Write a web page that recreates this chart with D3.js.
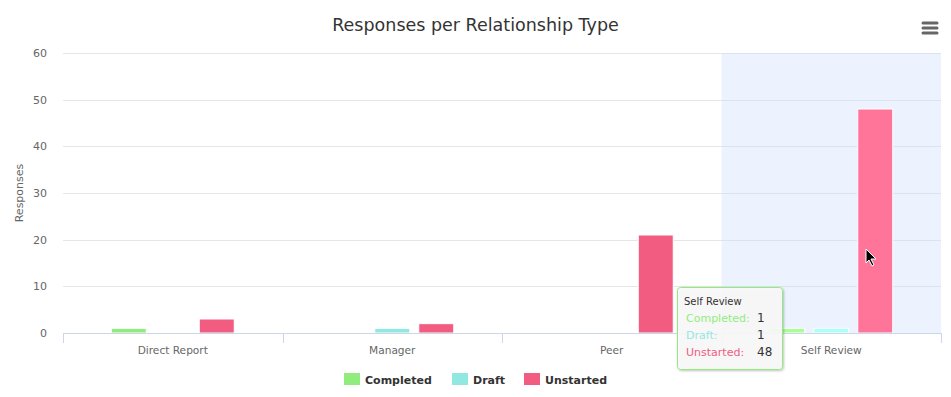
<!DOCTYPE html>
<html>
<head>
<meta charset="utf-8">
<script src="https://cdn.jsdelivr.net/npm/d3@7"></script>
<style>
  body { margin: 0; background: #fff; }
  svg { font-family: "Lucida Grande", "Lucida Sans Unicode", "DejaVu Sans", Arial, sans-serif; }
</style>
</head>
<body>
<div id="chart_area"></div>
<script>
var categories = ["Direct Report", "Manager", "Peer", "Self Review"];
var seriesNames = ["Completed", "Draft", "Unstarted"];
var completed = [1, 0, 0, 1];
var draft = [0, 1, 0, 1];
var unstarted = [3, 2, 21, 48];
var yTicks = [0, 10, 20, 30, 40, 50, 60];
var hovered = "Self Review";

var colors = ["#90ed7d", "#91e8e1", "#f15c80"];
var hoverColors = ["#a9ff96", "#aafffa", "#ff7599"];

var width = 951, height = 397;
var margin = { top: 53, right: 10, bottom: 64, left: 63 };
var plotW = width - margin.left - margin.right,
    plotH = height - margin.top - margin.bottom;

var rows = categories.map(function (c, i) {
    return { cat: c, values: [completed[i], draft[i], unstarted[i]] };
});

var svg = d3.select("#chart_area")
    .append("svg")
    .attr("width", width)
    .attr("height", height);

var x = d3.scaleBand().domain(categories).range([0, plotW]);
var xInner = d3.scaleBand().domain(seriesNames).range([0, x.bandwidth()])
    .paddingInner(0.205).paddingOuter(1.097);
var y = d3.scaleLinear().domain([0, 60]).range([plotH, 0]);

// title
svg.append("text")
    .attr("x", width / 2)
    .attr("y", 31)
    .attr("text-anchor", "middle")
    .style("font-size", "17.5px")
    .style("fill", "#333333")
    .text("Responses per Relationship Type");

// menu icon
[23, 28, 33].forEach(function (yy) {
    svg.append("line")
        .attr("x1", 923).attr("x2", 937)
        .attr("y1", yy).attr("y2", yy)
        .style("stroke", "#666666")
        .style("stroke-width", 3)
        .style("stroke-linecap", "round");
});

var g = svg.append("g").attr("transform", "translate(" + margin.left + "," + margin.top + ")");

// grid
g.append("g")
    .selectAll("line")
    .data(yTicks.filter(function (t) { return t > 0; }))
    .enter().append("line")
    .attr("x1", 0).attr("x2", plotW)
    .attr("y1", function (d) { return Math.round(y(d)) + 0.5; })
    .attr("y2", function (d) { return Math.round(y(d)) + 0.5; })
    .style("stroke", "#e6e6e6");

// hover band
g.append("rect")
    .attr("x", x(hovered))
    .attr("y", 0)
    .attr("width", x.bandwidth())
    .attr("height", plotH)
    .style("fill", "rgba(204,224,255,0.38)");

// y axis labels
g.append("g")
    .selectAll("text")
    .data(yTicks)
    .enter().append("text")
    .attr("x", -16)
    .attr("y", function (d) { return y(d) + 4; })
    .attr("text-anchor", "end")
    .style("font-size", "11px")
    .style("fill", "#666666")
    .text(function (d) { return d; });

svg.append("text")
    .attr("transform", "translate(23," + (margin.top + plotH / 2) + ") rotate(-90)")
    .attr("text-anchor", "middle")
    .style("font-size", "11px")
    .style("fill", "#666666")
    .text("Responses");

// bars
var groups = g.append("g")
    .selectAll("g")
    .data(rows)
    .enter().append("g")
    .attr("transform", function (d) { return "translate(" + x(d.cat) + ",0)"; });

groups.selectAll("rect")
    .data(function (d) {
        return d.values.map(function (v, i) { return { cat: d.cat, name: seriesNames[i], i: i, value: v }; });
    })
    .enter().append("rect")
    .filter(function (d) { return d.value > 0; })
    .attr("x", function (d) { return xInner(d.name); })
    .attr("y", function (d) { return y(d.value); })
    .attr("width", xInner.bandwidth())
    .attr("height", function (d) { return plotH - y(d.value); })
    .style("fill", function (d) { return d.cat === hovered ? hoverColors[d.i] : colors[d.i]; })
    .style("stroke", "#ffffff")
    .style("stroke-width", 1);

// x axis
var xAxis = g.append("g").attr("transform", "translate(0," + plotH + ")");
xAxis.append("line")
    .attr("x1", 0).attr("x2", plotW)
    .attr("y1", 0.5).attr("y2", 0.5)
    .style("stroke", "#ccd6eb");
xAxis.selectAll("line.tick")
    .data(categories.map(function (c) { return x(c); }).concat([plotW]))
    .enter().append("line")
    .attr("class", "tick")
    .attr("x1", function (d) { return Math.round(d) + 0.5; })
    .attr("x2", function (d) { return Math.round(d) + 0.5; })
    .attr("y1", 0).attr("y2", 10)
    .style("stroke", "#ccd6eb");
xAxis.selectAll("text")
    .data(categories)
    .enter().append("text")
    .attr("x", function (d) { return x(d) + x.bandwidth() / 2; })
    .attr("y", 21)
    .attr("text-anchor", "middle")
    .style("font-size", "10.6px")
    .style("fill", "#666666")
    .text(function (d) { return d; });

// legend
var legendX = [344, 452, 524];
var legend = svg.append("g")
    .selectAll("g")
    .data(seriesNames)
    .enter().append("g")
    .attr("transform", function (d, i) { return "translate(" + legendX[i] + ",373)"; });
legend.append("rect")
    .attr("width", 16).attr("height", 12)
    .style("fill", function (d, i) { return colors[i]; });
legend.append("text")
    .attr("x", 21).attr("y", 11)
    .style("font-size", "11px")
    .style("font-weight", "bold")
    .style("fill", "#333333")
    .text(function (d) { return d; });

// mouse cursor
svg.append("path")
    .attr("d", "M866,249 L866,263 L869,260 L872,266 L874,265 L871,259 L876,259 Z")
    .style("fill", "#000")
    .style("stroke", "#fff")
    .style("stroke-width", 1);

// tooltip
var hi = categories.indexOf(hovered);
var defs = svg.append("defs");
var f = defs.append("filter").attr("id", "shadow").attr("x", "-20%").attr("y", "-20%").attr("width", "140%").attr("height", "140%");
f.append("feDropShadow").attr("dx", 1).attr("dy", 1).attr("stdDeviation", 1.2).attr("flood-opacity", 0.25);

var tip = svg.append("g").attr("transform", "translate(677,287)");
tip.append("rect")
    .attr("x", 0.5).attr("y", 0.5)
    .attr("width", 105).attr("height", 82)
    .attr("rx", 3)
    .style("fill", "rgba(249,249,249,0.9)")
    .style("stroke", "#90ed7d")
    .style("stroke-width", 1)
    .attr("filter", "url(#shadow)");
tip.append("text")
    .attr("x", 7).attr("y", 18)
    .style("font-size", "10px")
    .style("fill", "#333333")
    .text(hovered);
var tipRows = tip.selectAll("g.row")
    .data(seriesNames)
    .enter().append("g")
    .attr("class", "row")
    .attr("transform", function (d, i) { return "translate(0," + (35 + i * 17) + ")"; });
tipRows.append("text")
    .attr("x", 9)
    .style("font-size", "11px")
    .style("fill", function (d, i) { return colors[i]; })
    .text(function (d) { return d + ":"; });
tipRows.append("text")
    .attr("x", 80)
    .style("font-size", "12px")
    .style("fill", "#333333")
    .text(function (d, i) { return rows[hi].values[i]; });
</script>
</body>
</html>
